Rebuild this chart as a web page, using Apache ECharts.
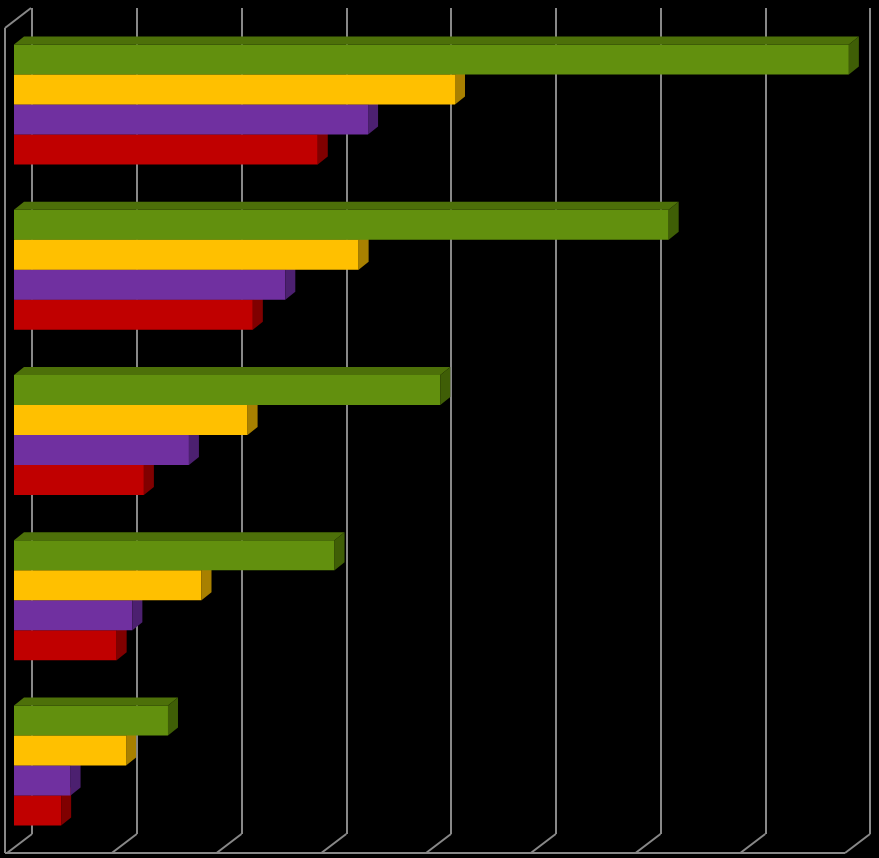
<!DOCTYPE html>
<html>
<head>
<meta charset="utf-8">
<script src="https://cdn.jsdelivr.net/npm/echarts@6/dist/echarts.min.js"></script>
<style>
	html, body { margin: 0; padding: 0; background: #000; }
	#barChart { width: 879px; height: 858px; }
</style>
</head>
<body>
<div id="barChart"></div>
<script>
var categories = ['1', '2', '3', '4', '5'];
var xTicks = [0, 1, 2, 3, 4, 5, 6, 7, 8];
var green = [7.97, 6.25, 4.07, 3.06, 1.47];
var yellow = [4.21, 3.29, 2.23, 1.79, 1.07];
var purple = [3.38, 2.59, 1.67, 1.13, 0.54];
var red = [2.90, 2.28, 1.24, 0.98, 0.45];

barChart("barChart");

function toPairs(arr) {
	return arr.map(function (v, i) { return [v, i]; });
}

//3D bar: front face, top face, right face
function barRender(slot, front, top, side) {
	return function (params, api) {
		var cat = api.value(1);
		var p0 = api.coord([0, cat]);
		var p1 = api.coord([api.value(0), cat]);
		var band = api.size([0, 1])[1];
		var h = band * 0.1816;
		var y = p0[1] - 2 * h + slot * h + 14;
		var x0 = p0[0] - 18, x1 = p1[0] - 18;
		return {
			type: 'group',
			children: [{
				type: 'rect',
				shape: { x: x0, y: y, width: x1 - x0, height: h },
				style: { fill: front }
			}, {
				type: 'polygon',
				shape: { points: [[x0, y], [x1, y], [x1 + 10, y - 8], [x0 + 10, y - 8]] },
				style: { fill: top }
			}, {
				type: 'polygon',
				shape: { points: [[x1, y], [x1 + 10, y - 8], [x1 + 10, y - 8 + h], [x1, y + h]] },
				style: { fill: side }
			}]
		};
	};
}

//floor and left wall
function floorRender(params, api) {
	var cs = params.coordSys;
	var bottom = cs.y + cs.height;
	var x = api.coord([api.value(0), 0])[0];
	var line = { stroke: '#888', lineWidth: 2 };
	var children = [{
		type: 'line',
		shape: { x1: x, y1: bottom, x2: x - 25, y2: bottom + 19 },
		style: line
	}];
	if (params.dataIndex === 0) {
		var xEnd = api.coord([xTicks[xTicks.length - 1], 0])[0];
		children.push({
			type: 'line',
			shape: { x1: x - 27, y1: bottom + 19, x2: xEnd - 25, y2: bottom + 19 },
			style: line
		}, {
			type: 'line',
			shape: { x1: x - 27, y1: cs.y + 20, x2: x - 27, y2: bottom + 19 },
			style: line
		}, {
			type: 'line',
			shape: { x1: x - 27, y1: cs.y + 20, x2: x - 1, y2: cs.y },
			style: line
		});
	}
	return { type: 'group', children: children };
}

function barChart(id) {
	var chart = echarts.init(document.getElementById(id));
	var option = {
		backgroundColor: '#000',
		animation: false,
		grid: {
			left: 32,
			right: 9,
			top: 8,
			bottom: 24
		},
		xAxis: {
			type: 'value',
			min: 0,
			max: 8,
			interval: 1,
			axisLine: { show: false },
			axisTick: { show: false },
			axisLabel: { show: false },
			splitLine: { show: true, lineStyle: { color: '#888', width: 2 } }
		},
		yAxis: {
			type: 'category',
			inverse: true,
			data: categories,
			axisLine: { show: false },
			axisTick: { show: false },
			axisLabel: { show: false },
			splitLine: { show: false }
		},
		series: [{
			type: 'custom',
			name: 'floor',
			clip: false,
			silent: true,
			renderItem: floorRender,
			data: xTicks.map(function (t) { return [t, 0]; }),
			z: 1
		}, {
			type: 'custom',
			name: 'green',
			clip: false,
			renderItem: barRender(0, '#62900e', '#4d7009', '#3f5e06'),
			data: toPairs(green),
			z: 6
		}, {
			type: 'custom',
			name: 'yellow',
			clip: false,
			renderItem: barRender(1, '#ffc000', '#c99800', '#a88000'),
			data: toPairs(yellow),
			z: 5
		}, {
			type: 'custom',
			name: 'purple',
			clip: false,
			renderItem: barRender(2, '#7030a0', '#58267e', '#4c2070'),
			data: toPairs(purple),
			z: 4
		}, {
			type: 'custom',
			name: 'red',
			clip: false,
			renderItem: barRender(3, '#c00000', '#960000', '#800000'),
			data: toPairs(red),
			z: 3
		}]
	};
	chart.setOption(option);
}
</script>
</body>
</html>
